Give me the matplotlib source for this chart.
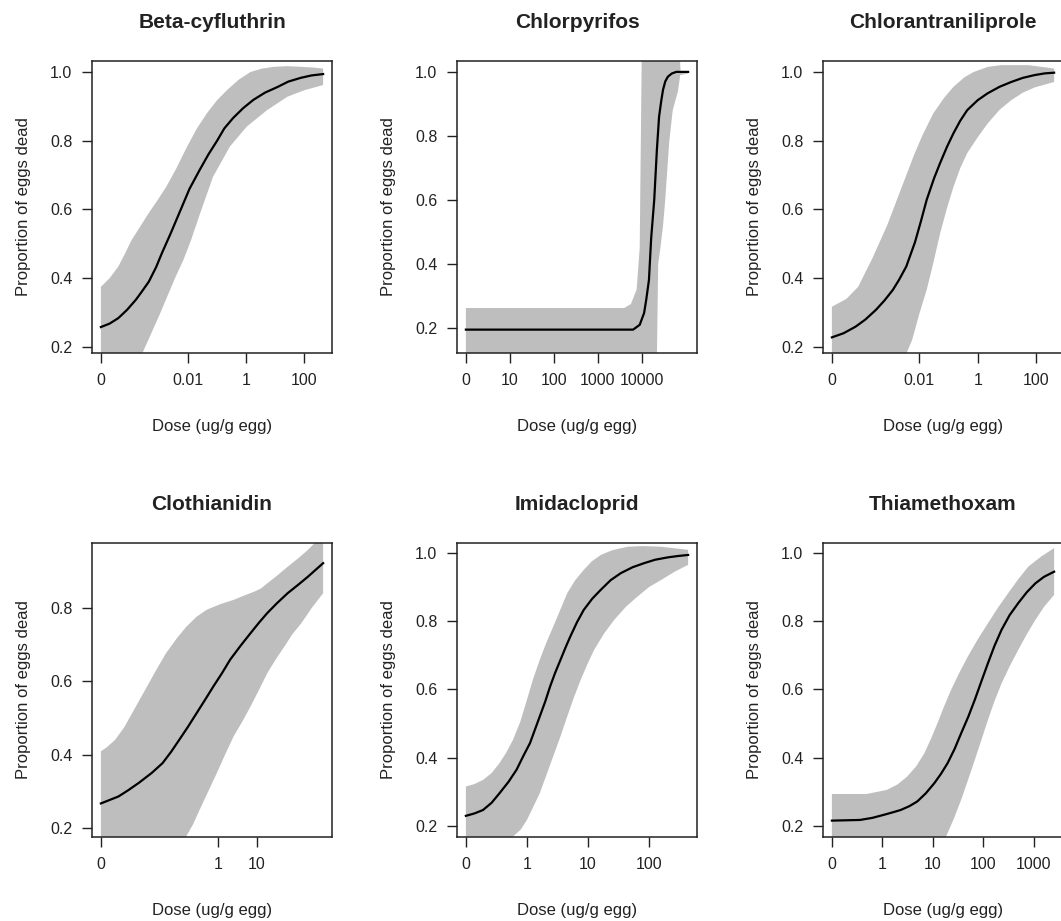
import matplotlib
matplotlib.use("Agg")
import matplotlib.pyplot as plt
import numpy as np

plt.rcParams['font.family'] = ['Liberation Sans', 'DejaVu Sans']

# x values are log10(dose); the first point of each panel is labelled "0"
# Beta-cyfluthrin
beta_x = [-5.0, -4.7, -4.4, -4.1, -3.8, -3.6, -3.35, -3.1, -2.9, -2.6, -2.25, -1.95, -1.6,
          -1.3, -1.0, -0.75, -0.45, -0.1, 0.25, 0.65, 1.07, 1.45, 1.88, 2.25, 2.65]
beta_fit = [0.258, 0.268, 0.284, 0.308, 0.337, 0.36, 0.39, 0.432, 0.473, 0.53, 0.60, 0.66, 0.715,
            0.76, 0.80, 0.836, 0.866, 0.895, 0.919, 0.94, 0.956, 0.972, 0.983, 0.99, 0.994]
beta_up_x = [-5.0, -4.7, -4.4, -4.15, -3.95, -3.65, -3.35, -3.05, -2.75, -2.4, -2.05, -1.7,
             -1.35, -1.0, -0.65, -0.25, 0.15, 0.55, 0.95, 1.4, 1.9, 2.3, 2.65]
beta_up = [0.375, 0.40, 0.434, 0.475, 0.51, 0.55, 0.59, 0.627, 0.666, 0.72, 0.78, 0.835,
           0.88, 0.918, 0.948, 0.978, 1.0, 1.01, 1.015, 1.017, 1.015, 1.013, 1.01]
beta_lo_x = [-5.0, -4.3, -3.55, -3.0, -2.45, -2.15, -1.9, -1.6, -1.14, -0.56, 0.02, 0.72,
             1.42, 2.0, 2.65]
beta_lo = [0.0, 0.09, 0.186, 0.29, 0.40, 0.455, 0.51, 0.585, 0.695, 0.783, 0.841, 0.889,
           0.928, 0.947, 0.962]

# Chlorpyrifos
chlorp_x = [0.0, 3.8, 3.95, 4.05, 4.1, 4.16, 4.21, 4.28, 4.34, 4.39, 4.44, 4.48, 4.53,
            4.59, 4.68, 4.78, 5.05]
chlorp_fit = [0.195, 0.195, 0.21, 0.247, 0.29, 0.35, 0.48, 0.60, 0.756, 0.86, 0.91, 0.944, 0.97,
              0.985, 0.995, 1.0, 1.0]
chlorp_up_x = [0.0, 3.6, 3.75, 3.88, 3.95, 4.0, 4.84, 4.88, 5.05]
chlorp_up = [0.2625, 0.2625, 0.275, 0.32, 0.45, 1.10, 1.10, 1.0, 1.0]
chlorp_lo_x = [0.0, 4.34, 4.37, 4.42, 4.48, 4.53, 4.57, 4.62, 4.70, 4.82, 4.87, 5.05]
chlorp_lo = [0.10, 0.10, 0.40, 0.45, 0.52, 0.60, 0.68, 0.78, 0.88, 0.94, 0.99, 0.995]

# Chlorantraniliprole
chlora_x = [-5.0, -4.6, -4.19, -3.85, -3.49, -3.2, -2.91, -2.7, -2.45, -2.15, -1.95, -1.75,
            -1.5, -1.29, -1.05, -0.83, -0.6, -0.36, 0.0, 0.34, 0.75, 1.15, 1.55, 1.95, 2.3, 2.62]
chlora_fit = [0.228, 0.24, 0.259, 0.28, 0.308, 0.335, 0.366, 0.395, 0.434, 0.505, 0.565, 0.628,
              0.69, 0.735, 0.783, 0.822, 0.858, 0.889, 0.918, 0.938, 0.957, 0.971, 0.983, 0.991,
              0.996, 0.998]
chlora_up_x = [-5.0, -4.5, -4.1, -3.6, -3.1, -2.65, -2.2, -1.9, -1.52, -1.15, -0.83, -0.45,
               -0.14, 0.35, 0.8, 1.74, 2.62]
chlora_up = [0.317, 0.34, 0.375, 0.46, 0.555, 0.655, 0.755, 0.815, 0.88, 0.925, 0.957, 0.985,
             1.0, 1.015, 1.02, 1.02, 1.01]
chlora_lo_x = [-5.0, -3.5, -2.6, -2.25, -1.99, -1.75, -1.52, -1.29, -1.05, -0.83, -0.6, -0.36,
               0.0, 0.34, 0.75, 1.15, 1.55, 1.95, 2.62]
chlora_lo = [0.0, 0.06, 0.15, 0.22, 0.30, 0.366, 0.445, 0.53, 0.605, 0.666, 0.72, 0.764,
             0.81, 0.85, 0.89, 0.918, 0.94, 0.955, 0.971]

# Clothianidin
cloth_x = [-3.0, -2.55, -2.3, -2.03, -1.7, -1.42, -1.2, -0.99, -0.77, -0.55, -0.33, -0.12,
           0.1, 0.31, 0.57, 0.83, 1.05, 1.26, 1.5, 1.78, 2.05, 2.30, 2.5, 2.69]
cloth_fit = [0.267, 0.286, 0.303, 0.323, 0.35, 0.377, 0.408, 0.441, 0.476, 0.513, 0.55, 0.586,
             0.622, 0.659, 0.696, 0.731, 0.76, 0.786, 0.812, 0.84, 0.863, 0.885, 0.904, 0.922]
cloth_up_x = [-3.0, -2.85, -2.63, -2.4, -2.2, -1.77, -1.55, -1.33, -1.05, -0.81, -0.55, -0.29,
              0.05, 0.40, 0.65, 0.92, 1.1, 1.26, 1.5, 1.78, 2.05, 2.30, 2.5, 2.69]
cloth_up = [0.409, 0.42, 0.441, 0.475, 0.513, 0.595, 0.637, 0.677, 0.718, 0.749, 0.776, 0.795,
            0.81, 0.822, 0.833, 0.844, 0.853, 0.867, 0.887, 0.912, 0.935, 0.958, 0.98, 1.0]
cloth_lo_x = [-3.0, -2.0, -1.4, -0.81, -0.64, -0.47, -0.25, -0.03, 0.18, 0.40, 0.62, 0.83,
              1.05, 1.26, 1.48, 1.70, 1.9, 2.13, 2.4, 2.69]
cloth_lo = [0.06, 0.09, 0.12, 0.178, 0.21, 0.25, 0.30, 0.35, 0.40, 0.45, 0.49, 0.531,
            0.577, 0.622, 0.66, 0.695, 0.728, 0.758, 0.80, 0.84]

# Imidacloprid
imid_x = [-1.0, -0.86, -0.72, -0.58, -0.45, -0.3, -0.17, -0.06, 0.05, 0.13, 0.21, 0.3, 0.38,
          0.46, 0.55, 0.63, 0.71, 0.82, 0.93, 1.07, 1.21, 1.37, 1.54, 1.73, 1.92, 2.1, 2.31,
          2.48, 2.64]
imid_fit = [0.230, 0.237, 0.247, 0.268, 0.296, 0.33, 0.365, 0.405, 0.443, 0.482, 0.521, 0.565,
            0.609, 0.648, 0.687, 0.722, 0.755, 0.797, 0.833, 0.866, 0.892, 0.92, 0.941, 0.958,
            0.970, 0.98, 0.987, 0.991, 0.994]
imid_up_x = [-1.0, -0.86, -0.72, -0.58, -0.45, -0.34, -0.23, -0.11, 0.0, 0.1, 0.21, 0.32,
             0.43, 0.55, 0.66, 0.79, 0.93, 1.06, 1.21, 1.4, 1.65, 1.9, 2.2, 2.64]
imid_up = [0.316, 0.323, 0.335, 0.355, 0.384, 0.415, 0.452, 0.505, 0.57, 0.63, 0.687, 0.738,
           0.784, 0.835, 0.882, 0.92, 0.95, 0.975, 0.994, 1.008, 1.018, 1.02, 1.018, 1.009]
imid_lo_x = [-1.0, -0.5, -0.23, -0.1, 0.0, 0.1, 0.21, 0.32, 0.43, 0.55, 0.66, 0.77, 0.88,
             0.99, 1.10, 1.26, 1.43, 1.62, 1.81, 2.0, 2.20, 2.42, 2.64]
imid_lo = [0.05, 0.11, 0.169, 0.19, 0.218, 0.255, 0.296, 0.35, 0.404, 0.463, 0.521, 0.577, 0.628,
           0.674, 0.716, 0.763, 0.804, 0.842, 0.872, 0.9, 0.921, 0.945, 0.965]

# Thiamethoxam
thia_x = [-1.0, -0.7, -0.44, -0.2, 0.03, 0.2, 0.36, 0.53, 0.69, 0.86, 1.03, 1.16, 1.29, 1.43,
          1.56, 1.7, 1.83, 1.96, 2.09, 2.22, 2.36, 2.52, 2.69, 2.86, 3.03, 3.2, 3.4]
thia_fit = [0.216, 0.217, 0.218, 0.224, 0.233, 0.24, 0.247, 0.258, 0.272, 0.296, 0.326, 0.353,
            0.384, 0.426, 0.472, 0.52, 0.57, 0.624, 0.677, 0.728, 0.775, 0.818, 0.853, 0.885,
            0.911, 0.93, 0.945]
thia_up_x = [-1.0, -0.65, -0.31, 0.09, 0.3, 0.49, 0.67, 0.83, 0.96, 1.09, 1.22, 1.36, 1.52,
             1.69, 1.88, 2.09, 2.29, 2.49, 2.69, 2.89, 3.15, 3.4]
thia_up = [0.294, 0.294, 0.294, 0.306, 0.322, 0.345, 0.375, 0.413, 0.455, 0.501, 0.55, 0.599,
           0.648, 0.696, 0.745, 0.794, 0.84, 0.882, 0.923, 0.96, 0.99, 1.014]
thia_lo_x = [-1.0, 0.5, 1.0, 1.26, 1.41, 1.56, 1.7, 1.83, 1.96, 2.09, 2.22, 2.36, 2.52, 2.69,
             2.86, 3.03, 3.2, 3.4]
thia_lo = [0.02, 0.03, 0.08, 0.169, 0.22, 0.277, 0.337, 0.394, 0.452, 0.511, 0.566, 0.618,
           0.668, 0.716, 0.762, 0.804, 0.842, 0.877]

titles = ["Beta-cyfluthrin", "Chlorpyrifos", "Chlorantraniliprole",
          "Clothianidin", "Imidacloprid", "Thiamethoxam"]
xtick_pos = [[-5, -2, 0, 2], [0, 1, 2, 3, 4], [-5, -2, 0, 2],
             [-3, 0, 1], [-1, 0, 1, 2], [-1, 0, 1, 2, 3]]
xtick_labels = [["0", "0.01", "1", "100"], ["0", "10", "100", "1000", "10000"],
                ["0", "0.01", "1", "100"], ["0", "1", "10"],
                ["0", "1", "10", "100"], ["0", "1", "10", "100", "1000"]]
ylims = [(0.1825, 1.032), (0.122, 1.034), (0.1825, 1.032),
         (0.1755, 0.977), (0.168, 1.029), (0.168, 1.029)]

panels = [
    (beta_x, beta_fit, beta_up_x, beta_up, beta_lo_x, beta_lo),
    (chlorp_x, chlorp_fit, chlorp_up_x, chlorp_up, chlorp_lo_x, chlorp_lo),
    (chlora_x, chlora_fit, chlora_up_x, chlora_up, chlora_lo_x, chlora_lo),
    (cloth_x, cloth_fit, cloth_up_x, cloth_up, cloth_lo_x, cloth_lo),
    (imid_x, imid_fit, imid_up_x, imid_up, imid_lo_x, imid_lo),
    (thia_x, thia_fit, thia_up_x, thia_up, thia_lo_x, thia_lo),
]

W, H = 1061, 921
fig = plt.figure(figsize=(W / 100, H / 100), dpi=100)

col_left = [92, 457, 823]
row_box = [(61, 353), (543, 837)]
box_w = 240

txt = '#222222'
for i, (x, fit, ux, up, lx, lo) in enumerate(panels):
    r, c = divmod(i, 3)
    top, bot = row_box[r]
    ax = fig.add_axes([col_left[c] / W, 1 - bot / H, box_w / W, (bot - top) / H])

    # confidence band as one polygon: upper edge then lower edge reversed
    poly_x = np.concatenate([ux, lx[::-1]])
    poly_y = np.concatenate([up, lo[::-1]])
    ax.fill(poly_x, poly_y, color='#bebebe', lw=0)
    ax.plot(x, fit, color='black', lw=1.6)

    ax.margins(x=0.04)
    ax.set_ylim(*ylims[i])
    ax.set_xticks(xtick_pos[i])
    ax.set_xticklabels(xtick_labels[i])
    yt = [v for v in [0.2, 0.4, 0.6, 0.8, 1.0] if ylims[i][0] <= v <= ylims[i][1]]
    ax.set_yticks(yt)
    ax.set_yticklabels([f"{v:.1f}" for v in yt])

    ax.tick_params(direction='out', length=7.2, width=1.0, pad=7,
                   labelsize=11.5, colors=txt)
    for s in ax.spines.values():
        s.set_linewidth(1.1)
        s.set_color('#222222')

    ax.set_title(titles[i], fontsize=15, fontweight='bold', color=txt,
                 y=1 + 39 / (bot - top), va='center', pad=0)
    ax.set_xlabel("Dose (ug/g egg)", fontsize=12, color=txt)
    ax.xaxis.set_label_coords(0.5, -0.25)
    ax.xaxis.label.set_va('center')
    ax.set_ylabel("Proportion of eggs dead", fontsize=12, color=txt)
    ax.yaxis.set_label_coords(-0.285, 0.5)
    ax.yaxis.label.set_va('center')

fig.savefig("out.png", dpi=100)
